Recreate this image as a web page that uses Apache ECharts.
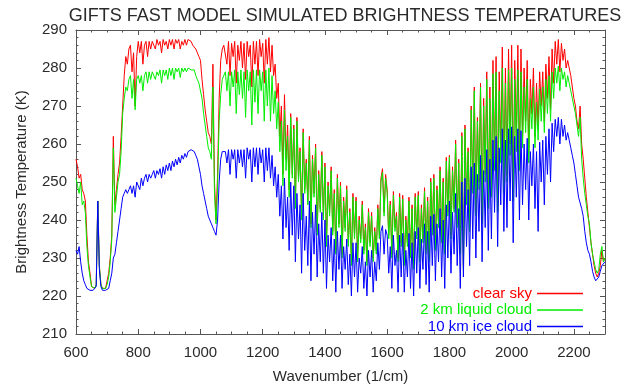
<!DOCTYPE html>
<html>
<head>
<meta charset="utf-8">
<script src="https://cdn.jsdelivr.net/npm/echarts@6/dist/echarts.min.js"></script>
<style>
  html, body { margin: 0; padding: 0; background: #fff; }
  #chart { width: 628px; height: 389px; }
</style>
</head>
<body>
<div id="chart"></div>
<script>
// Spectral grid: 600 to 2300 1/cm, sampled every 5 1/cm
const WN_START = 600;
const WN_STEP = 5;

// Brightness temperatures (K) along the grid
const clearSky = [
  256, 254, 251, 252, 248, 247, 245, 236, 229, 226,
  222.5, 222, 222, 223, 245, 228, 223, 222, 221.5, 222,
  224, 226, 230, 236, 262, 244, 248, 252, 255, 262,
  270, 278, 283, 281, 285, 286, 279, 284, 270, 283,
  287, 284, 287, 281, 286, 287, 283, 287, 285, 287,
  287, 285, 287.5, 286, 287, 284, 287.5, 286, 287, 285,
  287.5, 286, 287.5, 285, 287.5, 286.5, 287.5, 285, 287, 286,
  287.5, 286, 287.5, 287, 287, 286, 286.5, 285, 284, 283,
  282, 277, 273, 269, 266, 263, 262, 260, 281, 250,
  240, 252, 272, 282, 285, 286, 286, 281, 287, 278,
  286.5, 283, 287, 276, 286, 282, 287, 280, 286.5, 277,
  287, 283, 286, 275, 287, 281, 287, 278, 287.5, 283,
  286.5, 276, 287.5, 281, 288, 279, 286, 278, 281, 272,
  276, 262, 270, 252, 273, 256, 265, 248, 268, 252,
  265, 244, 267, 251, 259, 241, 264, 248, 256, 245,
  262, 239, 257, 247, 260, 237, 253, 243, 258, 241,
  255, 234, 250, 242, 254, 237, 248, 232, 252, 239,
  250, 231, 246, 238, 249, 234, 243, 229, 247, 236,
  246, 230, 241, 235, 245, 232, 239, 229, 243, 234,
  242, 230, 238, 232, 244, 236, 251, 253.5, 242, 252,
  248, 236, 245, 231, 247.5, 238, 242, 230, 247, 234,
  246.5, 229, 241, 234, 246, 231, 244, 228, 247, 236,
  247.5, 230, 244, 235, 248.5, 232, 246, 230, 251, 237,
  252, 233, 249, 239, 254, 235, 251, 232, 256.5, 242,
  257, 236, 254, 243, 261, 239, 256, 232, 263, 228,
  265, 245, 259, 238, 270, 248, 275, 242, 267, 250,
  276, 240, 272, 252, 279, 245, 275, 248, 282, 256,
  283, 244, 279, 258, 285.5, 250, 280, 252, 285, 260,
  286, 248, 282, 262, 286, 256, 285, 262, 280, 266,
  282, 258, 277, 268, 280, 262, 276, 264, 279, 270,
  279, 266, 281, 272, 283, 269, 285, 276, 287, 281,
  287.5, 279, 286.5, 282, 285, 280, 282, 280, 278, 275,
  272, 270, 266, 264, 270, 260, 256, 251, 246, 242,
  238, 234, 231, 228, 226, 225, 226, 228, 232, 229,
  230
];

const liquidCloud2km = [
  251, 249, 247, 250, 244, 245, 242, 233, 228, 225,
  222.5, 222, 222, 223, 245, 228, 223, 222, 221.5, 222,
  223, 225, 229, 235, 259, 242, 246, 250, 252, 258,
  268, 272, 275, 274, 277, 278, 272, 277, 269, 277,
  278, 276, 278, 274, 278, 279, 276, 279, 277, 279,
  279, 277, 279, 278, 279.5, 276, 279.5, 278, 279.5, 277,
  280, 278, 280, 277, 280, 279, 280, 277.5, 280, 279,
  280, 279, 280, 280, 279.5, 279, 279.5, 278, 277, 276,
  276, 272, 268, 265, 262, 259, 258, 256, 275, 247,
  239, 249, 266, 273, 277, 278, 279, 274, 279, 270,
  279, 275, 279.5, 268, 279, 273, 279.5, 272, 279, 267,
  279.5, 274, 279, 265, 279.5, 271, 279.5, 268, 279.5, 274,
  279, 266, 279.5, 270, 280, 266, 278, 268, 274, 264,
  271, 258, 266, 249, 269, 253, 262, 246, 267, 251,
  264, 243, 266, 250, 258, 240, 263, 247, 255, 244,
  261, 238, 256, 246, 259, 236, 252, 242, 257, 240,
  254, 233, 249, 241, 253, 236, 247, 231, 251, 238,
  249, 230, 245, 237, 248, 233, 242, 228, 246, 235,
  245, 229, 240, 234, 244, 231, 238, 228, 242, 233,
  241, 229, 237, 231, 243, 235, 250, 252.5, 241, 251,
  247, 235, 244, 230, 246.5, 237, 241, 229, 246, 233,
  245.5, 228, 240, 233, 245, 230, 243, 227, 246, 235,
  246.5, 229, 243, 234, 247.5, 231, 245, 229, 250, 236,
  251, 232, 248, 238, 253, 234, 250, 231, 255.5, 241,
  256.5, 235, 253, 242, 260, 238, 255, 231, 262, 227,
  264, 244, 258, 237, 269, 247, 274, 241, 266, 248,
  275, 239, 270, 250, 277, 243, 272, 246, 278.5, 253,
  279, 242, 274, 255, 280, 247, 276, 250, 279.5, 257,
  280, 245, 277, 258, 279.5, 253, 279, 259, 275, 263,
  277, 255, 272, 264, 275, 259, 271, 261, 274.5, 266,
  275, 263, 277, 268, 278, 266, 279, 272, 280, 276,
  280.5, 274, 280, 277, 279, 275, 278, 276, 274, 272,
  270, 268, 265, 262, 267, 256, 251, 247, 244, 241,
  239, 234, 231, 229, 227, 226, 227, 231, 233, 229,
  230
];

const iceCloud10km = [
  232, 231, 233, 229, 226, 224, 223, 222, 222, 221.5,
  222, 221.5, 222, 222.5, 245, 227, 222.5, 221.5, 221, 221.5,
  222, 222, 224, 226, 230, 231, 234, 237, 240, 243,
  246, 247, 248, 247, 248, 249, 247, 249, 246, 250,
  250, 248, 251, 249, 251, 252, 250, 252, 251, 252,
  253, 251, 253, 252, 253.5, 251, 254, 252, 254.5, 253,
  255, 253, 255.5, 254, 256, 254.5, 256.5, 255, 257, 256,
  257.5, 256.5, 258, 258.5, 258.5, 258, 258, 257, 256, 254,
  252, 249, 247, 245, 243, 241, 240, 239, 238, 237,
  236, 240, 250, 256, 258, 258.5, 258, 255, 258.5, 252,
  258.5, 256, 258.5, 251, 258.5, 255, 258.5, 254, 258.5, 251,
  259, 256, 258.5, 250, 259, 254, 259, 252, 259, 255,
  258.5, 250, 259, 253, 259, 251, 257, 249, 254, 246,
  252, 241, 249, 235, 251, 238, 246, 232, 250, 236,
  249, 229, 247, 235, 244, 226, 247, 232, 241, 228,
  245, 224, 242, 231, 244, 225, 239, 229, 242, 226,
  240, 222, 236, 229, 238, 224, 235, 221, 237, 227,
  236, 222, 233, 227, 235, 223, 231, 220, 234, 225,
  234, 221, 230, 226, 233, 222, 229, 220, 232, 225,
  232, 221, 229, 224, 234, 227, 237, 238.5, 231, 237.5,
  236, 226, 233, 222, 236, 228, 232, 221, 236, 225,
  236.5, 221, 232, 225, 236.5, 222, 234, 220, 237, 226,
  238, 222, 235, 227, 239, 223, 237, 221, 241, 228,
  241.5, 224, 239, 229, 243, 225, 240, 222, 244, 230,
  245, 226, 242, 231, 247, 228, 243, 222, 250, 225,
  251, 233, 248, 228, 254, 235, 255, 230, 252, 237,
  257, 229, 253, 238, 258.5, 232, 256, 235, 261, 242,
  262, 233, 259, 244, 264, 237, 261, 238, 264, 245,
  264.5, 234, 262, 246, 264, 240, 263.5, 244, 260, 248,
  261.5, 240, 258, 249, 260, 243, 258, 237, 260.5, 250,
  261, 244, 262, 252, 264, 250, 265.5, 258, 266.5, 262,
  267, 260, 266.5, 262, 265, 261, 263, 261, 259, 257,
  255, 252, 249, 246, 244.5, 243, 241, 237, 234, 232,
  231, 229, 226.5, 225, 224, 223.5, 225, 226.5, 228, 228,
  229
];

const seriesNames = ['clear sky', '2 km liquid cloud', '10 km ice cloud'];
const seriesColors = ['#ff0000', '#00ee00', '#0000ff'];
const seriesValues = [clearSky, liquidCloud2km, iceCloud10km];

const xTicks = [600, 800, 1000, 1200, 1400, 1600, 1800, 2000, 2200];
const yTicks = [210, 220, 230, 240, 250, 260, 270, 280, 290];

const FONT = '"Liberation Sans", Arial, sans-serif';
const AXIS_COLOR = '#555';
const TEXT_COLOR = '#2a2a2a';

function pairs(values) {
  return values.map((t, i) => [WN_START + i * WN_STEP, t]);
}

const frameAxis = (extra) => Object.assign({
  axisLine: { show: true, onZero: false, lineStyle: { color: AXIS_COLOR, width: 1 } },
  axisTick: { show: true, inside: true, length: 5, lineStyle: { color: AXIS_COLOR } },
  minorTick: { show: true, length: 2.5, lineStyle: { color: AXIS_COLOR } },
  splitLine: { show: false }
}, extra);

const chart = echarts.init(document.getElementById('chart'), null, { renderer: 'canvas' });

chart.setOption({
  animation: false,
  backgroundColor: '#fff',
  title: {
    text: 'GIFTS FAST MODEL SIMULATED BRIGHTNESS TEMPERATURES',
    left: 340, top: 2, textAlign: 'center',
    textStyle: { fontFamily: FONT, fontSize: 18, fontWeight: 'normal', color: TEXT_COLOR }
  },
  grid: { left: 76, right: 23, top: 30, bottom: 48 },
  legend: {
    orient: 'vertical',
    right: 45, top: 286,
    padding: 0,
    align: 'right',
    itemWidth: 46, itemHeight: 1.5, itemGap: 1.5,
    icon: 'rect',
    data: seriesNames.map((n, i) => ({ name: n, textStyle: { color: seriesColors[i] } })),
    textStyle: { fontFamily: FONT, fontSize: 15, padding: [0, 0, 0, 0] }
  },
  xAxis: [
    frameAxis({
      type: 'value', min: 600, max: 2300, interval: 200,
      minorTick: { show: true, splitNumber: 4, length: 2.5, lineStyle: { color: AXIS_COLOR } },
      axisLabel: {
        fontFamily: FONT, fontSize: 15, color: TEXT_COLOR, margin: 11,
        formatter: (v) => (xTicks.includes(v) ? String(v) : '')
      },
      name: 'Wavenumber (1/cm)', nameLocation: 'middle', nameGap: 35,
      nameTextStyle: { fontFamily: FONT, fontSize: 15, color: TEXT_COLOR }
    }),
    frameAxis({
      type: 'value', min: 600, max: 2300, interval: 200, position: 'top',
      minorTick: { show: true, splitNumber: 4, length: 2.5, lineStyle: { color: AXIS_COLOR } },
      axisLabel: { show: false }
    })
  ],
  yAxis: [
    frameAxis({
      type: 'value', min: 210, max: 290, interval: 10,
      minorTick: { show: true, splitNumber: 5, length: 2.5, lineStyle: { color: AXIS_COLOR } },
      axisLabel: {
        fontFamily: FONT, fontSize: 15, color: TEXT_COLOR, margin: 9,
        formatter: (v) => (yTicks.includes(v) ? String(v) : '')
      },
      name: 'Brightness Temperature (K)', nameLocation: 'middle', nameGap: 47, nameRotate: 90,
      nameTextStyle: { fontFamily: FONT, fontSize: 15, color: TEXT_COLOR }
    }),
    frameAxis({
      type: 'value', min: 210, max: 290, interval: 10, position: 'right',
      minorTick: { show: true, splitNumber: 5, length: 2.5, lineStyle: { color: AXIS_COLOR } },
      axisLabel: { show: false }
    })
  ],
  series: seriesNames.map((name, i) => ({
    name,
    type: 'line',
    xAxisIndex: 0, yAxisIndex: 0,
    data: pairs(seriesValues[i]),
    showSymbol: false, symbol: 'none',
    lineStyle: { color: seriesColors[i], width: 1 },
    itemStyle: { color: seriesColors[i] },
    emphasis: { disabled: true },
    clip: true
  }))
});
</script>
</body>
</html>
